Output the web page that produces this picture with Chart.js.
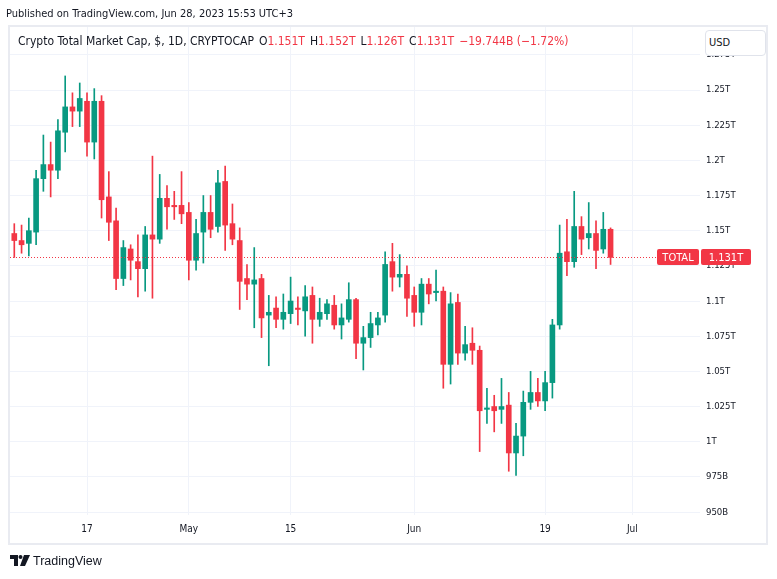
<!DOCTYPE html>
<html lang="en">
<head>
<meta charset="UTF-8">
<title>Crypto Total Market Cap</title>
<script src="https://cdn.jsdelivr.net/npm/chart.js@4.4.0/dist/chart.umd.min.js"></script>
<style>
    body { margin: 0; background: #fff; }
    #contenedor {
        position: relative; width: 777px; height: 579px; overflow: hidden;
        font-family: 'Liberation Sans Narrow', 'Arial Narrow', 'DejaVu Sans Condensed', 'Liberation Sans', sans-serif;
        color: #131722;
    }
    canvas { position: absolute; left: 0; top: 0; }
    .texto { position: absolute; white-space: nowrap; }
    .rojo { color: #f23645; }
    .sep { margin-left: 5px; }
    #marco {
        position: absolute; left: 8px; top: 25px; width: 756px; height: 516px;
        border: 2px solid #e9ebf1; pointer-events: none;
    }
    #publicado { left: 6px; top: 7px; font-size: 11px; }
    #leyenda { left: 18px; top: 34px; font-size: 12px; }
    #usd {
        position: absolute; left: 705px; top: 30px; width: 56px; height: 24px;
        border: 1px solid #e0e3eb; border-radius: 4px; background: #fff;
        font-size: 11px; line-height: 24px; padding-left: 3px; box-sizing: content-box;
    }
    #pie { position: absolute; left: 10px; top: 554px; font-family: 'Liberation Sans', Arial, sans-serif; font-size: 12.5px; }
    #pie svg { vertical-align: -1px; margin-right: 3px; }
</style>
</head>
<body>
<div id="contenedor">
    <canvas id="graficaVelas" width="777" height="579"></canvas>
    <div id="marco"></div>
    <div class="texto" id="publicado">Published on TradingView.com, Jun 28, 2023 15:53 UTC+3</div>
    <div class="texto" id="leyenda"></div>
    <div id="usd">USD</div>
    <div class="texto" id="pie">
        <svg width="20" height="11" viewBox="0 0 20 11">
            <path d="M0 0h8v11h-4v-7h-4z" fill="#131722"/>
            <circle cx="10.5" cy="2" r="2" fill="#131722"/>
            <path d="M14 0h6l-5 11h-5z" fill="#131722"/>
        </svg>TradingView
    </div>
</div>
<script>
// velas diarias del 7 abr al 28 jun 2023 (valores en billones de USD, T)
const aperturas = [
    1.148, 1.143, 1.141, 1.149, 1.187, 1.197, 1.193, 1.220, 1.238, 1.235,
    1.242, 1.213, 1.242, 1.174, 1.157, 1.116, 1.137, 1.128, 1.123, 1.147,
    1.144, 1.173, 1.168, 1.168, 1.163, 1.129, 1.149, 1.163, 1.153, 1.185,
    1.155, 1.143, 1.116, 1.112, 1.116, 1.090, 1.095, 1.087, 1.091, 1.095,
    1.093, 1.104, 1.087, 1.091, 1.097, 1.083, 1.087, 1.101, 1.070, 1.074,
    1.083, 1.090, 1.128, 1.117, 1.119, 1.104, 1.092, 1.112, 1.106, 1.107,
    1.055, 1.099, 1.063, 1.070, 1.065, 1.023, 1.025, 1.023, 1.026, 0.992,
    1.004, 1.028, 1.035, 1.029, 1.042, 1.083, 1.135, 1.128, 1.153, 1.145,
    1.148, 1.137, 1.151
];
const maximos = [
    1.155, 1.154, 1.159, 1.193, 1.218, 1.213, 1.229, 1.260, 1.248, 1.255,
    1.248, 1.251, 1.246, 1.192, 1.166, 1.143, 1.140, 1.147, 1.153, 1.203,
    1.190, 1.182, 1.178, 1.192, 1.170, 1.158, 1.175, 1.175, 1.193, 1.196,
    1.169, 1.152, 1.126, 1.138, 1.119, 1.104, 1.103, 1.105, 1.117, 1.103,
    1.111, 1.110, 1.102, 1.101, 1.104, 1.098, 1.113, 1.102, 1.082, 1.092,
    1.092, 1.135, 1.141, 1.133, 1.125, 1.110, 1.116, 1.116, 1.122, 1.110,
    1.106, 1.105, 1.082, 1.081, 1.068, 1.038, 1.033, 1.045, 1.035, 1.013,
    1.036, 1.050, 1.045, 1.050, 1.087, 1.154, 1.158, 1.178, 1.160, 1.170,
    1.157, 1.163, 1.152
];
const minimos = [
    1.131, 1.134, 1.132, 1.140, 1.178, 1.174, 1.187, 1.206, 1.224, 1.224,
    1.203, 1.201, 1.159, 1.143, 1.108, 1.111, 1.115, 1.103, 1.107, 1.102,
    1.141, 1.151, 1.158, 1.155, 1.115, 1.122, 1.127, 1.145, 1.149, 1.136,
    1.140, 1.094, 1.101, 1.081, 1.074, 1.054, 1.081, 1.080, 1.084, 1.083,
    1.075, 1.070, 1.082, 1.087, 1.080, 1.073, 1.085, 1.059, 1.051, 1.067,
    1.076, 1.085, 1.107, 1.110, 1.089, 1.082, 1.083, 1.098, 1.100, 1.038,
    1.041, 1.055, 1.058, 1.055, 0.993, 1.013, 1.007, 1.013, 0.979, 0.976,
    0.990, 1.023, 1.025, 1.022, 1.031, 1.080, 1.118, 1.124, 1.133, 1.137,
    1.123, 1.134, 1.126
];
const cierres = [
    1.143, 1.140, 1.150, 1.187, 1.197, 1.193, 1.221, 1.238, 1.235, 1.244,
    1.213, 1.242, 1.172, 1.156, 1.116, 1.138, 1.129, 1.123, 1.147, 1.144,
    1.173, 1.167, 1.167, 1.162, 1.129, 1.148, 1.163, 1.151, 1.184, 1.154,
    1.144, 1.114, 1.112, 1.115, 1.088, 1.092, 1.087, 1.092, 1.100, 1.094,
    1.103, 1.087, 1.092, 1.098, 1.083, 1.088, 1.101, 1.070, 1.074, 1.084,
    1.088, 1.126, 1.117, 1.119, 1.102, 1.092, 1.112, 1.105, 1.107, 1.055,
    1.098, 1.063, 1.069, 1.065, 1.022, 1.024, 1.022, 1.025, 0.992, 1.004,
    1.028, 1.035, 1.029, 1.042, 1.083, 1.134, 1.128, 1.153, 1.144, 1.148,
    1.136, 1.151, 1.131
];

// eje de tiempo: posicion (dia desde el 7 abr) y texto
const posEtiquetasX = [10, 24, 38, 55, 73, 85];
const etiquetasX = ['17', 'May', '15', 'Jun', '19', 'Jul'];

// eje de precio
const valoresY = [0.95, 0.975, 1.0, 1.025, 1.05, 1.075, 1.1, 1.125, 1.15, 1.175, 1.2, 1.225, 1.25, 1.275];
const etiquetasY = ['950B', '975B', '1T', '1.025T', '1.05T', '1.075T', '1.1T', '1.125T', '1.15T', '1.175T', '1.2T', '1.225T', '1.25T', '1.275T'];

const VERDE = '#089981';
const ROJO = '#f23645';
const FUENTE = "'Liberation Sans Narrow', 'Arial Narrow', 'DejaVu Sans Condensed', 'Liberation Sans', sans-serif";

const n = cierres.length - 1;
document.getElementById('leyenda').innerHTML =
    `Crypto Total Market Cap, $, 1D, CRYPTOCAP<span class="sep">O</span><span class="rojo">${aperturas[n].toFixed(3)}T</span>` +
    `<span class="sep">H</span><span class="rojo">${maximos[n].toFixed(3)}T</span>` +
    `<span class="sep">L</span><span class="rojo">${minimos[n].toFixed(3)}T</span>` +
    `<span class="sep">C</span><span class="rojo">${cierres[n].toFixed(3)}T</span>` +
    `<span class="sep rojo">−19.744B (−1.72%)</span>`;

const colores = cierres.map((c, i) => c >= aperturas[i] ? VERDE : ROJO);

// linea punteada y etiqueta del ultimo precio
const ultimoPrecio = {
    id: 'ultimoPrecio',
    afterDraw(chart) {
        const { ctx, chartArea, scales } = chart;
        const y = Math.round(scales.y.getPixelForValue(cierres[n]));

        ctx.save();
        ctx.strokeStyle = ROJO;
        ctx.lineWidth = 1;
        ctx.setLineDash([1, 2]);
        ctx.beginPath();
        ctx.moveTo(chartArea.left, y + 0.5);
        ctx.lineTo(chartArea.right, y + 0.5);
        ctx.stroke();
        ctx.setLineDash([]);

        ctx.fillStyle = ROJO;
        ctx.beginPath();
        ctx.roundRect(chartArea.right - 43, y - 8, 42, 16, 2);
        ctx.roundRect(chartArea.right + 1, y - 8, 50, 16, 2);
        ctx.fill();

        ctx.fillStyle = '#fff';
        ctx.font = `11px ${FUENTE}`;
        ctx.textAlign = 'center';
        ctx.textBaseline = 'middle';
        ctx.fillText('TOTAL', chartArea.right - 22, y + 1);
        ctx.fillText(`${cierres[n].toFixed(3)}T`, chartArea.right + 26, y + 1);
        ctx.restore();
    }
};

new Chart(document.getElementById('graficaVelas'), {
    type: 'bar',
    data: {
        datasets: [
            {
                label: 'mecha',
                data: cierres.map((c, i) => ({ x: i, y: [minimos[i], maximos[i]] })),
                backgroundColor: colores,
                barThickness: 1,
                grouped: false,
                order: 2
            },
            {
                label: 'cuerpo',
                data: cierres.map((c, i) => ({ x: i, y: [aperturas[i], c] })),
                backgroundColor: colores,
                barThickness: 5,
                minBarLength: 1,
                grouped: false,
                order: 1
            }
        ]
    },
    options: {
        responsive: false,
        animation: false,
        devicePixelRatio: 1,
        layout: { padding: { left: 10, right: 11, top: 27, bottom: 36 } },
        plugins: { legend: { display: false }, tooltip: { enabled: false } },
        scales: {
            x: {
                type: 'linear',
                min: -0.59,
                max: 94.3,
                offset: false,
                grid: { color: '#f0f3fa', drawTicks: false, offset: false },
                border: { display: false },
                afterBuildTicks: s => { s.ticks = posEtiquetasX.map(v => ({ value: v })); },
                afterFit: s => { s.height = 28; },
                ticks: {
                    autoSkip: false,
                    maxRotation: 0,
                    padding: 8,
                    color: '#131722',
                    font: { family: FUENTE, size: 10 },
                    callback: (v, i) => etiquetasX[i]
                }
            },
            y: {
                position: 'right',
                min: 0.9479,
                max: 1.2948,
                grid: { color: '#f0f3fa', drawTicks: false },
                border: { display: false },
                afterBuildTicks: s => { s.ticks = valoresY.map(v => ({ value: v })); },
                afterFit: s => { s.width = 66; },
                ticks: {
                    padding: 6,
                    color: '#131722',
                    font: { family: FUENTE, size: 9.5 },
                    callback: (v, i) => etiquetasY[i]
                }
            }
        }
    },
    plugins: [ultimoPrecio]
});
</script>
</body>
</html>
